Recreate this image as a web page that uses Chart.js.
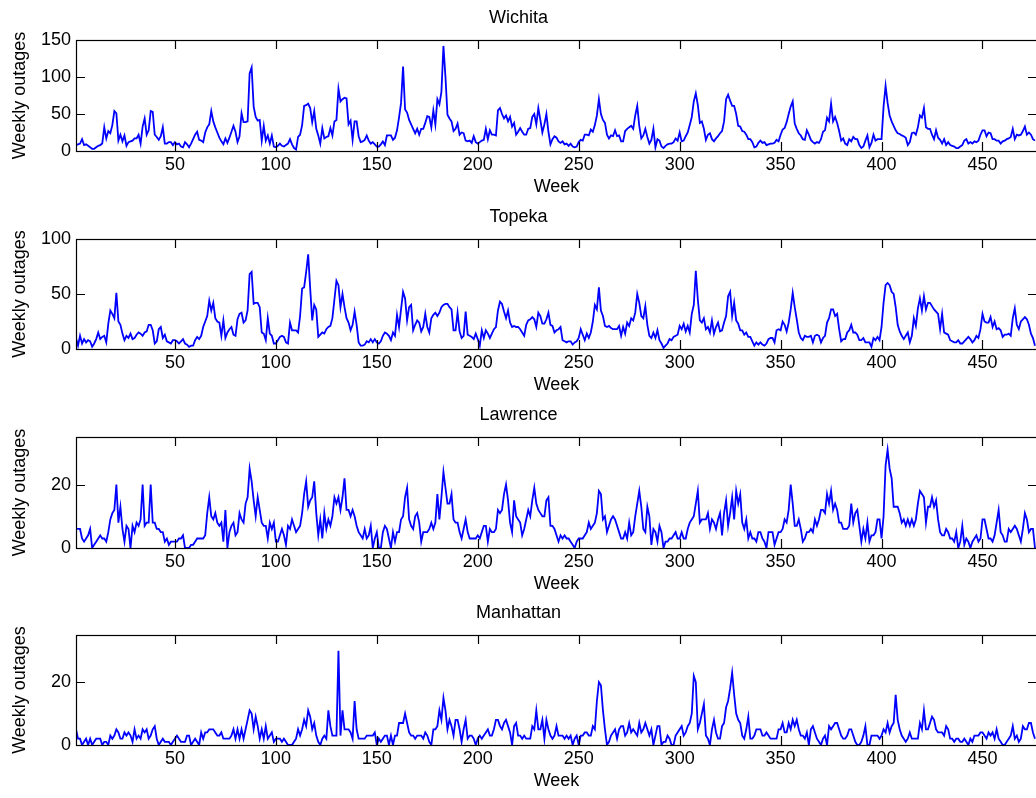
<!DOCTYPE html>
<html>
<head>
<meta charset="utf-8">
<title>Weekly outages</title>
<script src="https://cdn.jsdelivr.net/npm/chart.js@4.4.1/dist/chart.umd.min.js"></script>
<style>
    html, body { margin: 0; padding: 0; background: #fff; overflow: hidden; }
    #figure { position: relative; width: 1036px; height: 798px; overflow: hidden; background: #fff; }
    #figure canvas { position: absolute; left: 0; }
</style>
</head>
<body>
<div id="figure">
    <canvas id="chartWichita" width="1037" height="198" style="top:0px"></canvas>
    <canvas id="chartTopeka" width="1037" height="197" style="top:199px"></canvas>
    <canvas id="chartLawrence" width="1037" height="198" style="top:397px"></canvas>
    <canvas id="chartManhattan" width="1037" height="197" style="top:595px"></canvas>
</div>
<script>
/**
 * Weekly outages per city
 */

// Datos (lectura semanal, semana 1..476)
const wichita = [
    8,9,10,16,8,9,7,5,3,3, 5,7,8,10,32,17,27,24,35,54, 51,14,22,13,21,7,12,13,14,17,
    17,22,10,33,44,22,28,54,53,22, 19,15,20,32,10,10,12,12,8,12, 9,10,6,5,12,9,5,10,16,22,
    26,15,14,12,25,32,36,54,40,32, 25,18,13,9,17,11,18,26,34,26, 12,20,51,39,39,40,105,113,60,46,
    41,42,14,34,14,21,10,21,6,5, 7,10,7,6,8,10,16,9,4,2, 19,22,35,61,62,64,58,39,54,30,
    21,10,31,17,19,20,31,21,40,42, 84,67,70,72,71,36,41,15,40,40, 20,12,13,15,21,14,10,12,9,6,
    6,9,13,8,21,21,21,15,18,28, 45,65,114,56,52,42,36,30,24,30, 22,30,30,38,47,46,32,55,36,70,
    63,80,142,100,49,44,40,27,30,37, 22,25,24,14,13,14,11,20,12,10, 12,14,15,30,16,28,22,22,21,55,
    58,50,44,48,40,46,33,38,22,26, 31,26,22,22,30,31,46,50,36,58, 42,25,36,50,26,9,16,20,18,13,
    11,13,9,10,7,10,6,5,6,12, 15,14,22,22,21,29,26,35,48,70, 50,42,38,22,17,21,20,28,20,21,
    13,13,27,30,32,34,30,48,61,34, 17,21,30,19,10,15,30,5,16,14, 6,4,7,9,10,10,12,17,14,25,
    13,14,20,25,35,46,67,78,62,38, 40,30,15,22,24,16,13,17,20,24, 27,40,70,76,68,61,61,50,34,33,
    27,26,22,16,16,12,5,6,11,14, 11,12,8,9,10,10,11,15,13,22, 29,31,39,50,60,67,37,30,24,21,
    16,15,28,22,15,12,10,12,11,16, 26,28,45,40,64,40,46,38,27,14, 17,10,8,16,13,19,16,16,8,4,
    6,14,21,5,11,22,14,16,16,16, 60,88,65,48,40,34,28,24,23,21, 20,18,8,12,24,25,22,32,48,45,
    58,32,30,30,22,16,28,18,15,10, 16,8,12,8,7,6,4,4,6,8, 14,16,10,12,10,13,12,14,22,28,
    28,20,25,24,16,16,14,14,10,13, 14,16,17,19,30,16,22,21,22,27, 33,22,25,22,16,14
];

const topeka = [
    10,3,12,5,9,6,8,7,2,5, 9,15,9,11,12,6,23,35,32,28, 51,25,22,14,8,12,10,14,9,10,
    13,15,14,12,15,16,22,22,17,5, 7,18,20,10,13,7,6,5,8,8, 7,5,7,9,5,4,2,3,3,8,
    11,9,12,20,25,30,44,35,42,28, 25,24,12,26,10,15,18,20,13,12, 27,32,33,24,26,35,68,70,41,42,
    42,38,15,14,8,28,14,12,5,5, 8,11,12,11,6,5,24,17,17,17, 15,30,55,56,70,86,55,26,40,36,
    11,13,15,14,18,20,21,28,45,62, 58,38,50,38,28,24,17,22,34,22, 6,3,3,4,7,6,9,6,9,6,
    5,7,12,15,14,12,8,15,12,31, 20,36,52,46,26,38,40,17,22,26, 24,16,20,32,20,15,28,31,33,30,
    33,38,40,41,41,38,36,17,17,33, 16,10,12,34,13,12,11,9,14,9, 3,17,10,17,14,10,14,18,20,35,
    43,41,34,28,35,24,20,21,20,20, 18,15,12,22,26,27,29,27,20,33, 30,23,23,27,33,22,21,15,17,18,
    20,8,7,6,7,7,4,6,7,10, 18,13,8,14,10,15,25,40,36,56, 35,30,21,20,21,19,18,18,18,21,
    12,20,14,24,21,28,26,33,50,42, 30,28,39,22,12,10,15,10,17,8, 5,1,3,5,9,8,11,12,13,21,
    18,23,16,21,15,32,40,71,45,26, 24,28,18,20,15,26,14,20,24,16, 17,24,30,48,52,30,42,26,23,17,
    17,13,15,11,11,7,3,6,4,6, 4,3,5,9,10,10,6,17,18,17, 25,22,16,24,36,51,38,27,15,10,
    8,12,11,11,12,6,12,13,12,6, 10,12,24,28,36,36,30,32,18,7, 9,9,15,17,22,15,15,13,8,8,
    10,6,6,6,2,10,8,11,8,20, 42,58,60,58,52,50,38,22,16,12, 9,12,15,6,12,28,21,37,46,35,
    48,36,42,42,39,36,34,32,18,32, 15,14,13,8,7,6,6,8,5,5, 7,9,11,9,6,8,12,10,18,32,
    25,24,24,29,20,25,18,19,17,11, 13,13,14,12,28,37,22,18,25,27, 29,27,22,14,10,3
];

const lawrence = [
    6,6,6,3,2,3,4,6,0,1, 2,3,4,3,3,2,5,9,11,12, 20,8,13,6,2,7,6,0,7,5,
    8,7,9,20,7,8,8,20,8,8, 6,6,5,5,2,3,1,2,2,2, 2,3,3,4,0,0,0,1,1,2,
    3,3,3,3,4,11,16,10,9,11, 8,7,8,2,12,0,5,7,8,4, 5,11,9,8,14,16,25,21,15,10,
    16,12,8,7,7,3,8,6,8,2, 2,4,6,4,1,7,6,9,7,5, 6,7,11,17,21,13,15,16,21,11,
    4,9,3,11,6,9,7,10,16,14, 16,12,16,22,12,12,10,12,10,7, 5,4,3,6,3,4,7,0,3,5,
    0,0,5,7,6,3,0,5,2,5, 5,9,10,16,19,9,7,6,10,11, 8,2,5,5,5,6,8,6,8,17,
    9,16,24,19,14,14,17,9,8,8, 5,3,6,9,5,3,3,3,3,4, 3,5,7,7,2,6,5,5,6,12,
    11,12,17,20,15,8,5,15,10,9, 8,4,6,9,12,10,15,19,14,12, 11,10,10,15,16,7,7,6,4,2,
    4,3,4,3,3,2,1,0,2,3, 3,3,4,5,8,6,7,8,11,18, 17,9,10,5,7,9,10,9,7,5,
    3,3,5,3,8,4,5,10,14,18, 13,6,5,13,10,1,6,5,2,7, 5,0,2,2,3,3,4,5,3,3,
    5,3,3,6,8,9,10,14,18,8, 9,9,9,11,6,9,8,6,9,11, 4,11,15,7,11,16,9,18,14,17,
    8,6,9,3,5,3,3,2,5,5, 3,2,0,5,5,5,1,3,5,5, 6,9,8,12,20,14,7,7,9,6,
    2,3,5,5,6,5,9,7,9,12, 12,11,17,14,18,12,14,12,8,8, 6,6,6,7,14,8,11,12,7,2,
    6,3,8,2,4,4,5,9,9,3, 10,26,31,25,22,13,13,13,11,8, 9,7,9,7,9,7,9,14,18,17,
    16,8,13,13,16,13,15,9,5,4, 4,6,5,3,3,2,5,0,2,7, 1,3,2,0,2,3,4,2,3,9,
    9,6,3,3,2,4,8,12,5,4, 2,2,6,5,6,7,6,4,2,6, 11,9,5,6,6,0
];

const manhattan = [
    5,2,2,0,1,2,0,2,0,1, 2,2,2,0,1,1,0,3,2,3, 5,4,2,2,4,3,4,3,1,5,
    2,3,2,5,4,5,2,3,5,6, 2,0,1,2,1,1,1,0,1,2, 3,2,1,1,1,3,3,0,1,2,
    1,0,4,2,4,4,5,5,5,4, 3,3,4,2,2,2,2,3,5,2, 5,2,5,2,5,8,11,10,5,9,
    6,2,5,2,6,2,3,4,1,2, 2,2,1,2,1,0,0,0,1,2, 5,3,5,8,6,11,9,5,7,3,
    1,0,2,3,2,11,6,3,3,3, 30,3,11,5,5,5,4,2,14,5, 2,2,2,2,3,3,3,3,4,0,
    2,1,2,3,3,0,3,0,3,3, 7,7,7,10,7,4,3,3,2,3, 3,3,2,4,3,1,0,5,5,6,
    11,8,15,11,5,8,6,3,8,8, 5,1,5,8,2,3,3,2,0,2, 3,2,3,4,5,3,3,5,8,8,
    6,5,7,8,6,4,0,6,7,3, 3,2,3,2,2,2,6,5,11,5, 5,8,2,8,5,3,2,3,6,3,
    3,3,2,3,2,3,0,2,3,0, 3,3,4,4,3,3,6,5,14,20, 19,11,5,0,1,3,4,5,2,5,
    6,6,3,4,7,4,5,4,3,7, 4,5,7,5,3,5,0,3,6,6, 0,1,1,3,2,0,0,3,4,5,
    6,3,4,6,7,10,22,20,5,7, 10,13,3,2,0,5,8,4,2,2, 6,7,12,14,18,23,16,10,8,7,
    3,2,5,9,2,2,3,5,5,5, 3,3,4,3,2,2,2,2,5,5, 7,4,4,7,5,8,6,8,5,3,
    3,2,4,0,5,6,4,2,1,0, 2,3,0,6,5,6,7,7,5,3, 2,2,3,5,5,3,1,0,0,1,
    3,6,0,0,3,3,3,3,2,3, 5,4,7,4,6,7,16,8,5,3, 2,1,2,4,2,2,2,2,7,5,
    11,5,5,7,9,8,5,4,4,4, 3,6,5,2,2,1,2,2,1,1, 2,1,0,2,1,3,3,3,4,4,
    3,2,4,3,4,2,5,2,1,0, 0,1,2,3,6,2,3,1,2,6, 5,5,7,7,4,2
];

// Semanas (eje x) y marcas
const weeks = wichita.map((_, i) => i + 1);
const xTicks = [50, 100, 150, 200, 250, 300, 350, 400, 450];
const ticksWichita = [0, 50, 100, 150];
const ticksTopeka = [0, 50, 100];
const ticksLawrence = [0, 20];
const ticksManhattan = [0, 20];

Chart.defaults.font.family = "'Liberation Sans', Arial, sans-serif";
Chart.defaults.font.size = 18;
Chart.defaults.color = '#000';

// Marco con marcas hacia dentro (estilo MATLAB)
const frameTicks = {
    id: 'frameTicks',
    afterDatasetsDraw(chart) {
        const { ctx, chartArea: a, scales: { x, y } } = chart;
        ctx.save();
        ctx.strokeStyle = '#000';
        ctx.lineWidth = 1.2;
        ctx.beginPath();
        x.ticks.forEach(t => {
            const px = Math.round(x.getPixelForValue(t.value)) + 0.5;
            ctx.moveTo(px, a.bottom); ctx.lineTo(px, a.bottom - 9);
            ctx.moveTo(px, a.top); ctx.lineTo(px, a.top + 9);
        });
        y.ticks.forEach(t => {
            const py = Math.round(y.getPixelForValue(t.value)) + 0.5;
            ctx.moveTo(a.left, py); ctx.lineTo(a.left + 9, py);
            ctx.moveTo(a.right, py); ctx.lineTo(a.right - 9, py);
        });
        ctx.stroke();
        ctx.strokeRect(Math.round(a.left) + 0.5, Math.round(a.top) + 0.5,
            Math.round(a.right - a.left), Math.round(a.bottom - a.top));
        ctx.restore();
    }
};

function renderCity(canvasId, title, values, yMax, yTicks) {
    const ctx = document.getElementById(canvasId).getContext('2d');

    new Chart(ctx, {
        type: 'line',
        data: {
            datasets: [{
                data: values.map((v, i) => ({ x: weeks[i], y: v })),
                borderColor: '#0000ff',
                borderWidth: 1.8,
                pointRadius: 0,
                tension: 0,
                fill: false
            }]
        },
        options: {
            responsive: false,
            animation: false,
            layout: { padding: 0 },
            scales: {
                x: {
                    type: 'linear',
                    min: 1,
                    max: 477,
                    grid: { display: false, drawTicks: false },
                    border: { display: false },
                    afterBuildTicks: s => { s.ticks = xTicks.map(v => ({ value: v })); },
                    afterFit: s => { s.height = 47; },
                    ticks: { padding: 3, autoSkip: false, maxRotation: 0 },
                    title: { display: true, text: 'Week', padding: { top: 0, bottom: 0 } }
                },
                y: {
                    min: 0,
                    max: yMax,
                    grid: { display: false, drawTicks: false },
                    border: { display: false },
                    afterBuildTicks: s => { s.ticks = yTicks.map(v => ({ value: v })); },
                    afterFit: s => { s.width = 76; },
                    ticks: { padding: 5 },
                    title: { display: true, text: 'Weekly outages', padding: { top: 9, bottom: 0 } }
                }
            },
            plugins: {
                legend: { display: false },
                tooltip: { enabled: false },
                title: {
                    display: true,
                    text: title,
                    font: { size: 18, weight: 'normal', lineHeight: 1.2 },
                    padding: { top: 7.2, bottom: 11.2 }
                }
            }
        },
        plugins: [frameTicks]
    });
}

renderCity('chartWichita', 'Wichita', wichita, 150, ticksWichita);
renderCity('chartTopeka', 'Topeka', topeka, 100, ticksTopeka);
renderCity('chartLawrence', 'Lawrence', lawrence, 35, ticksLawrence);
renderCity('chartManhattan', 'Manhattan', manhattan, 35, ticksManhattan);
</script>
</body>
</html>
